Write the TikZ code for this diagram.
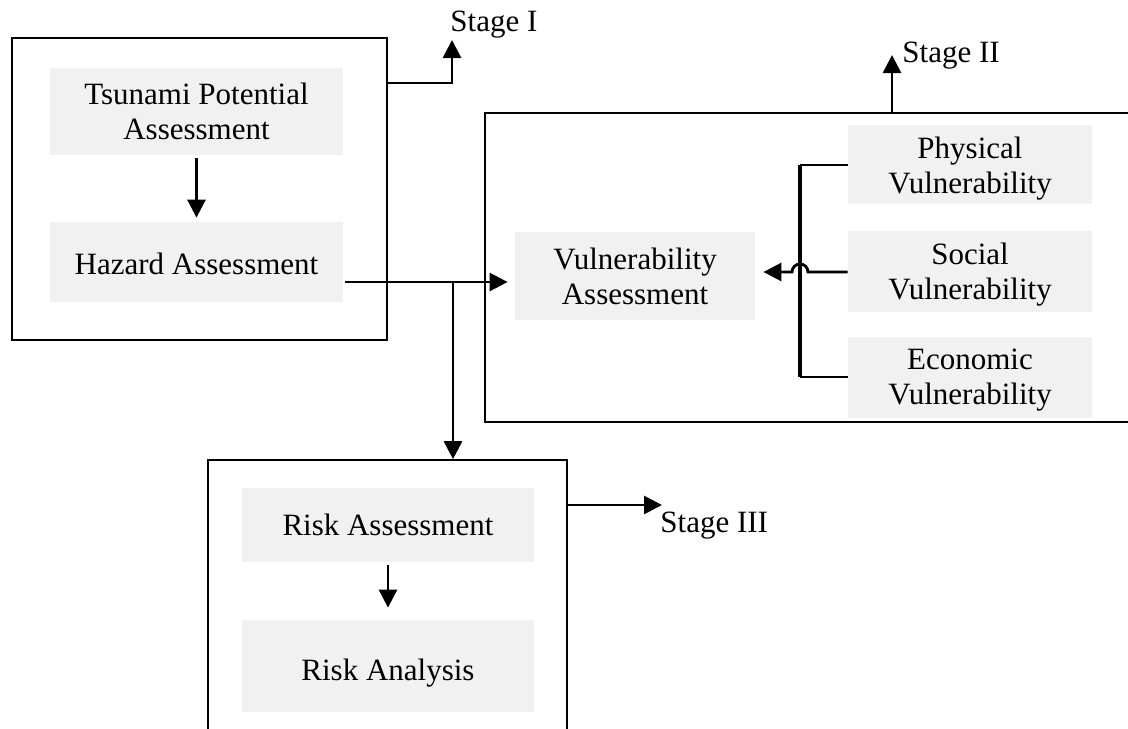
\documentclass[tikz,border=0pt]{standalone}
\usepackage{fontspec}
\setmainfont{Liberation Serif}
\usetikzlibrary{fit,arrows.meta}
\definecolor{boxgray}{HTML}{F1F1F1}
\tikzset{
  x=0.5pt, y=-0.5pt,
  stagebox/.style={draw=black, line width=0.8pt, inner sep=0pt},
  graybox/.style={fill=boxgray, draw=none, inner sep=0pt},
  txt/.style={align=center, font=\fontsize{15.5pt}{17.5pt}\selectfont},
  conn/.style={line width=1.4pt, -{Triangle[length=9pt,width=9pt]}},
  plain/.style={line width=1.4pt},
  stagelabel/.style={anchor=base west, inner sep=0pt, font=\fontsize{15.5pt}{17.5pt}\selectfont}
}
\begin{document}
\begin{tikzpicture}
\useasboundingbox (0,0) rectangle (1128,728);
\clip (0,0) rectangle (1128,728);
% stage boxes
\node[stagebox, fit={(12,38)(387,340)}] (s1) {};
\node[stagebox, fit={(485,113)(1140,422)}] (s2) {};
\node[stagebox, fit={(208,460)(567,740)}] (s3) {};
% content boxes
\node[graybox, fit={(50,68)(343,155)}] (tpa) {};
\node[txt] at (tpa) {Tsunami Potential\\Assessment};
\node[graybox, fit={(50,222)(343,302)}] (ha) {};
\node[txt] at ([yshift=-1pt]ha) {Hazard Assessment};
\node[graybox, fit={(515,232)(755,320)}] (va) {};
\node[txt] at (va) {Vulnerability\\Assessment};
\node[graybox, fit={(848,125)(1092,204)}] (pv) {};
\node[txt] at ([yshift=-2pt]pv) {Physical\\Vulnerability};
\node[graybox, fit={(848,231)(1092,312)}] (sv) {};
\node[txt] at ([yshift=-1.5pt]sv) {Social\\Vulnerability};
\node[graybox, fit={(848,337)(1092,418)}] (ev) {};
\node[txt] at ([yshift=-1.5pt]ev) {Economic\\Vulnerability};
\node[graybox, fit={(242,488)(534,562)}] (ra) {};
\node[txt] at (ra) {Risk Assessment};
\node[graybox, fit={(242,620)(534,712)}] (ran) {};
\node[txt] at ([yshift=-3.5pt]ran) {Risk Analysis};
% vertical arrows
\draw[conn] ([yshift=-1.5pt]tpa.south) -- ([yshift=2pt]ha.north);
\draw[conn] ([yshift=-1.5pt]ra.south) -- ([yshift=6pt]ran.north);
% hazard to vulnerability and risk
\coordinate (j) at (453,282);
\draw[conn] ([xshift=1pt]ha.east |- j) -- ([xshift=-3.5pt]va.west |- j);
\draw[conn] (j) -- (j |- s3.north);
% bracket with hop
\coordinate (bt) at (800,165);
\coordinate (bb) at (800,377);
\draw[plain] (pv.west |- bt) -- (bt);
\draw[plain] (bb) -- (ev.west |- bb);
\draw[line width=2pt] (bt) -- (bb);
\draw[conn] (sv.west |- 0,272) -- (808,272) arc (0:-180:8) -- ([xshift=4pt]va.east |- 0,272);
% stage outputs
\coordinate (st1) at (452,40);
\coordinate (st2) at (892,55);
\coordinate (st3) at (662,505);
\draw[conn] (s1.east |- 0,83) -| (st1);
\draw[conn] (st2 |- s2.north) -- (st2);
\draw[conn] (s3.east |- st3) -- (st3);
\node[stagelabel] (l1) at (450,32) {Stage I};
\node[stagelabel] (l2) at (902,62) {Stage II};
\node[stagelabel] (l3) at (660,532) {Stage III};
\end{tikzpicture}
\end{document}
